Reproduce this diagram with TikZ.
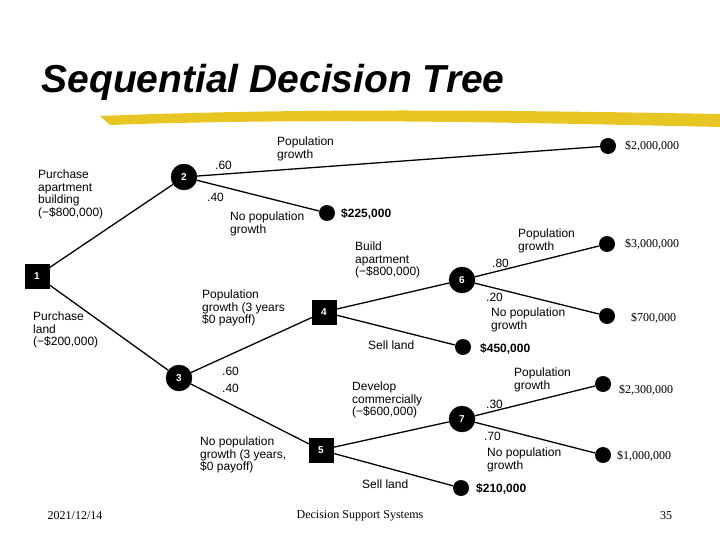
\documentclass[tikz,border=0pt]{standalone}
\usepackage{fontspec}
\setmainfont{Liberation Sans}
\newfontfamily\serifw{Liberation Serif}
\begin{document}
\begin{tikzpicture}[x=1pt,y=-1pt,
 sq/.style={draw=black,fill=black,minimum size=24pt,inner sep=0pt,text=white,font=\bfseries},
 ch/.style={circle,draw=black,fill=black,minimum size=26pt,inner sep=0pt,text=white,font=\bfseries},
 tip/.style={circle,fill=black,minimum size=16pt,inner sep=0pt},
 br/.style={line width=1.3pt},
 lb/.style={font=\fontsize{12}{12.5}\selectfont,align=left,inner sep=0pt},
 pay/.style={font=\serifw\fontsize{12}{13}\selectfont,anchor=west,inner sep=0pt}]
\useasboundingbox (0,0) rectangle (720,540);
\node[anchor=west,font=\bfseries\itshape\fontsize{39}{39}\selectfont] (t) at (38,82) {Sequential Decision Tree};
\fill[yellow!70!orange!90!black!95] (100,116) .. controls (300,108) and (500,110) .. (720,114) -- (720,127) .. controls (500,122) and (300,118) .. (110,125) -- cycle;
\node[sq] (n1) at (37,276) {1};
\node[ch] (n2) at (184,177) {2};
\node[ch] (n3) at (179,378) {3};
\node[sq] (n4) at (324,312) {4};
\node[sq] (n5) at (321,450) {5};
\node[ch] (n6) at (462,280) {6};
\node[ch] (n7) at (462,419) {7};
\node[tip] (e1) at (608,146) {};
\node[tip] (e2) at (327,213) {};
\node[tip] (e3) at (607,244) {};
\node[tip] (e4) at (607,316) {};
\node[tip] (e5) at (463,347) {};
\node[tip] (e6) at (603,384) {};
\node[tip] (e7) at (603,455) {};
\node[tip] (e8) at (461,488) {};
\draw[br] (n1)--(n2); \draw[br] (n1)--(n3);
\draw[br] (n2)--(e1); \draw[br] (n2)--(e2);
\draw[br] (n3)--(n4); \draw[br] (n3)--(n5);
\draw[br] (n4)--(n6); \draw[br] (n4)--(e5);
\draw[br] (n6)--(e3); \draw[br] (n6)--(e4);
\draw[br] (n5)--(n7); \draw[br] (n5)--(e8);
\draw[br] (n7)--(e6); \draw[br] (n7)--(e7);
\node[pay] (p1) at (625,146) {\$2,000,000};
\node[pay] (p3) at (625,244) {\$3,000,000};
\node[pay] (p4) at (631,318) {\$700,000};
\node[pay] (p6) at (619,390) {\$2,300,000};
\node[pay] (p7) at (617,456) {\$1,000,000};
\node[lb,anchor=north west] (a1) at (38,170) {Purchase\\apartment\\building\\(−\$800,000)};
\node[lb,anchor=west] at (215,165) {.60};
\node[lb,anchor=north west] at (277,137) {Population\\growth};
\node[lb,anchor=west] at (207,197) {.40};
\node[lb,anchor=north west] at (230,212) {No population\\growth};
\node[lb,anchor=west,font=\bfseries\fontsize{12}{12}\selectfont] at (341,214) {\$225,000};
\node[lb,anchor=north west] at (355,242) {Build\\apartment\\(−\$800,000)};
\node[lb,anchor=west] at (492,263) {.80};
\node[lb,anchor=north west] at (518,229) {Population\\growth};
\node[lb,anchor=west] at (486,297) {.20};
\node[lb,anchor=north west] at (491,308) {No population\\growth};
\node[lb,anchor=west,font=\bfseries\fontsize{12}{12}\selectfont] at (480,349) {\$450,000};
\node[lb,anchor=north west] at (202,290) {Population\\growth (3 years\\\$0 payoff)};
\node[lb,anchor=west] at (368,345) {Sell land};
\node[lb,anchor=north west] at (33,312) {Purchase\\land\\(−\$200,000)};
\node[lb,anchor=west] at (222,371) {.60};
\node[lb,anchor=west] at (222,388) {.40};
\node[lb,anchor=north west] at (352,382) {Develop\\commercially\\(−\$600,000)};
\node[lb,anchor=west] at (486,404) {.30};
\node[lb,anchor=west] at (484,436) {.70};
\node[lb,anchor=north west] at (514,368) {Population\\growth};
\node[lb,anchor=north west] at (200,437) {No population\\growth (3 years,\\\$0 payoff)};
\node[lb,anchor=north west] at (487,448) {No population\\growth};
\node[lb,anchor=west] at (362,484) {Sell land};
\node[lb,anchor=west,font=\bfseries\fontsize{12}{12}\selectfont] at (476,489) {\$210,000};
\node[font=\serifw\fontsize{12}{13}\selectfont] (f1) at (75,516) {2021/12/14};
\node[font=\serifw\fontsize{12}{13}\selectfont] (f2) at (360,516) {Decision Support Systems};
\node[font=\serifw\fontsize{12}{13}\selectfont] (f3) at (666,516) {35};
\end{tikzpicture}
\end{document}
